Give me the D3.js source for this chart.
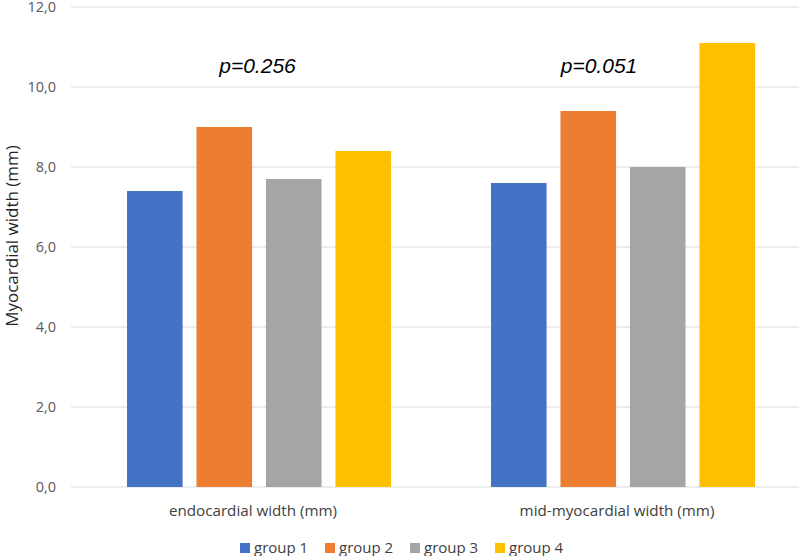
<!DOCTYPE html>
<html>
<head>
<meta charset="utf-8">
<script src="https://cdn.jsdelivr.net/npm/d3@7"></script>
<style>
  body { margin: 0; background: #fff; }
  svg { display: block; font-family: "Open Sans", "Liberation Sans", sans-serif; }
</style>
</head>
<body>
<svg id="chart" width="800" height="556"></svg>
<script>
// data
const categories = ['endocardial width (mm)', 'mid-myocardial width (mm)'];
const groups = ['group 1', 'group 2', 'group 3', 'group 4'];
const values = [
  [7.4, 9.0, 7.7, 8.4],   // endocardial
  [7.6, 9.4, 8.0, 11.1]   // mid-myocardial
];
const pLabels = ['p=0.256', 'p=0.051'];
const yTicks = [0, 2, 4, 6, 8, 10, 12];
const colors = ['#4472C4', '#ED7D31', '#A5A5A5', '#FFC000'];

const svg = d3.select('#chart');
const plotL = 71, plotR = 799, plotT = 7, plotB = 487;

const y = d3.scaleLinear().domain([0, 12]).range([plotB, plotT]);
const x0 = d3.scaleBand().domain(categories).range([plotL, plotR]).paddingInner(0).paddingOuter(0);
const x1 = d3.scaleBand().domain(groups).range([0, 264]).paddingInner(0.2).paddingOuter(0);

// gridlines
svg.append('g')
  .selectAll('line')
  .data(yTicks)
  .enter().append('line')
    .attr('x1', plotL).attr('x2', plotR)
    .attr('y1', d => y(d)).attr('y2', d => y(d))
    .attr('stroke', '#d9d9d9').attr('stroke-width', 1);

// y axis labels
const fmt = d => d3.format('.1f')(d).replace('.', ',');
svg.append('g')
  .selectAll('text')
  .data(yTicks)
  .enter().append('text')
    .attr('x', 56).attr('y', d => y(d))
    .attr('dy', '0.35em')
    .attr('text-anchor', 'end')
    .attr('fill', '#595959')
    .style('font-size', '14.5px')
    .text(fmt);

// y axis title
svg.append('text')
  .attr('transform', 'translate(12,236) rotate(-90)')
  .attr('text-anchor', 'middle')
  .attr('dy', '0.35em')
  .attr('fill', '#262626')
  .style('font-size', '17px')
  .text('Myocardial width (mm)');

// bars
const cat = svg.append('g')
  .selectAll('g')
  .data(categories)
  .enter().append('g')
    .attr('transform', d => 'translate(' + (x0(d) + (x0.bandwidth() - 264) / 2 + 6) + ',0)');

cat.selectAll('rect')
  .data((d, i) => values[i].map((v, j) => ({ g: groups[j], v: v, c: colors[j] })))
  .enter().append('rect')
    .attr('x', d => x1(d.g))
    .attr('width', x1.bandwidth())
    .attr('y', d => y(d.v))
    .attr('height', d => plotB - y(d.v))
    .attr('fill', d => d.c);

// p values
svg.append('g')
  .selectAll('text')
  .data(pLabels)
  .enter().append('text')
    .attr('x', (d, i) => x0(categories[i]) + x0.bandwidth() / 2 + (i === 0 ? 4.5 : -18))
    .attr('y', 73)
    .attr('text-anchor', 'middle')
    .attr('fill', '#000')
    .style('font-family', '"Liberation Sans", Arial, sans-serif')
    .style('font-style', 'italic')
    .style('font-size', '21px')
    .text(d => d);

// category labels
svg.append('g')
  .selectAll('text')
  .data(categories)
  .enter().append('text')
    .attr('x', d => x0(d) + x0.bandwidth() / 2)
    .attr('y', 511)
    .attr('dy', '0.35em')
    .attr('text-anchor', 'middle')
    .attr('fill', '#404040')
    .style('font-size', '15.2px')
    .text(d => d);

// legend
const legend = svg.append('g')
  .selectAll('g')
  .data(groups)
  .enter().append('g')
    .attr('transform', (d, i) => 'translate(' + (240 + i * 85) + ',548)');
legend.append('rect')
  .attr('x', 0).attr('y', -5)
  .attr('width', 10).attr('height', 10)
  .attr('fill', (d, i) => colors[i]);
legend.append('text')
  .attr('x', 14).attr('y', 0)
  .attr('dy', '0.35em')
  .attr('fill', '#404040')
  .style('font-size', '15px')
  .text(d => d);
</script>
</body>
</html>
